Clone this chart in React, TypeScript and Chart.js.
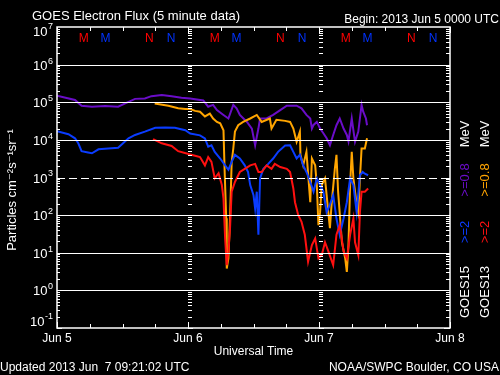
import React, { useEffect, useRef } from "react";
import { Chart, registerables } from "chart.js";

Chart.register(...registerables);

// Hours since 2013 Jun 5 00:00 UT, and electron flux (particles cm^-2 s^-1 sr^-1)
const g15LowHours = [0, 3.3, 4.5, 6.4, 8.8, 11.2, 12.5, 14.3, 16.1, 17.3, 19.2, 21.0, 22.8, 24.4, 26.8, 27.7, 28.6, 29.3, 30.5, 31.4, 32.3, 32.9, 33.5, 34.8, 35.7, 36.3, 36.9, 37.2, 38.4, 39.6, 40.9, 42.1, 43.9, 44.8, 45.7, 46.4, 46.7, 47.0, 47.6, 48.2, 48.8, 49.4, 50.0, 50.6, 51.2, 51.8, 52.5, 53.1, 53.4, 54.0, 54.6, 55.2, 55.8, 56.1, 56.6, 56.8];
const g15LowFlux = [1.48e5, 1.15e5, 8.1e4, 7.6e4, 7.9e4, 7.6e4, 9.3e4, 1.23e5, 1.26e5, 1.45e5, 1.55e5, 1.45e5, 1.32e5, 1.26e5, 1.12e5, 7.6e4, 8.5e4, 6.2e4, 4.6e4, 3.7e4, 8.5e4, 6.9e4, 4.6e4, 3.0e4, 2.0e4, 7.2e3, 2.0e4, 3.7e4, 3.7e4, 4.6e4, 6.2e4, 8.1e4, 8.1e4, 6.9e4, 4.6e4, 3.7e4, 2.0e4, 2.5e4, 3.0e4, 2.0e4, 1.5e4, 1.1e4, 7.2e3, 1.35e4, 2.45e4, 3.7e4, 2.0e4, 1.35e4, 9.1e3, 3.7e4, 8.9e3, 1.66e4, 8.5e4, 5.6e4, 3.7e4, 2.45e4];

const g15HighHours = [0, 2.1, 3.3, 3.9, 4.5, 5.7, 6.4, 7.6, 9.4, 11.2, 11.9, 13.1, 14.3, 16.1, 18.0, 19.8, 21.6, 23.5, 24.4, 26.2, 27.1, 27.7, 28.3, 28.9, 29.9, 30.8, 31.4, 32.0, 32.6, 33.5, 34.4, 35.0, 35.4, 36.0, 36.3, 36.6, 36.9, 37.2, 37.8, 38.7, 39.6, 40.5, 41.8, 42.7, 43.3, 43.9, 44.5, 45.1, 45.7, 46.4, 47.0, 47.6, 48.2, 48.8, 49.4, 50.0, 50.6, 51.2, 51.8, 52.5, 53.1, 53.7, 54.3, 54.9, 55.5, 56.0, 56.4, 57.0];
const g15HighFlux = [1.7e4, 1.41e4, 1.1e4, 8.1e3, 5.0e3, 4.6e3, 4.4e3, 5.6e3, 5.9e3, 6.2e3, 7.6e3, 1.1e4, 1.35e4, 1.66e4, 2.1e4, 2.14e4, 2.1e4, 1.8e4, 1.48e4, 1.32e4, 1.1e4, 6.6e3, 7.2e3, 4.8e3, 3.2e3, 2.1e3, 1.6e3, 2.6e3, 4.0e3, 3.2e3, 2.1e3, 1.4e3, 630, 340, 150, 420, 30, 950, 1.7e3, 2.3e3, 3.2e3, 4.8e3, 7.1e3, 7.2e3, 4.8e3, 3.2e3, 4.0e3, 2.1e3, 1.4e3, 760, 420, 950, 630, 420, 120, 190, 340, 81, 30, 81, 220, 950, 630, 120, 1.15e3, 1.4e3, 1.26e3, 1.15e3];

const g13LowHours = [17.9, 20.4, 22.2, 23.5, 24.4, 25.3, 26.2, 27.1, 28.0, 28.6, 29.3, 29.9, 30.5, 30.7, 31.0, 31.1, 31.4, 31.7, 32.0, 32.3, 32.6, 33.2, 34.1, 35.4, 36.6, 37.5, 39.0, 39.3, 40.2, 41.8, 42.7, 43.3, 43.9, 44.5, 44.6, 45.1, 45.7, 46.4, 46.7, 47.3, 47.6, 47.9, 48.2, 48.5, 49.1, 49.7, 50.0, 50.3, 50.9, 51.2, 51.5, 52.2, 52.8, 53.1, 53.4, 53.7, 54.0, 54.3, 54.9, 55.2, 55.5, 55.8, 56.4, 56.8];
const g13LowFlux = [9.3e4, 8.1e4, 6.9e4, 6.6e4, 6.6e4, 5.9e4, 5.6e4, 4.2e4, 5.0e4, 3.7e4, 3.0e4, 2.75e4, 1.8e4, 1.7e3, 83, 3.8, 7.1, 83, 2.6e3, 5.9e3, 1.66e4, 2.45e4, 3.0e4, 3.7e4, 4.6e4, 3.0e4, 3.7e4, 2.0e4, 3.4e4, 3.2e4, 3.0e4, 2.0e4, 8.9e3, 1.66e4, 4.0e3, 2.1e3, 4.8e3, 220, 3.2e3, 2.1e3, 630, 54, 120, 630, 950, 120, 45, 190, 1.7e3, 4.0e3, 420, 19, 7.1, 3.1, 16, 630, 4.8e3, 950, 190, 120, 950, 5.9e3, 5.9e3, 1.1e4];

const g13HighHours = [17.6, 19.2, 21.0, 22.2, 24.1, 25.3, 26.2, 27.1, 27.7, 28.3, 28.9, 29.6, 30.2, 30.5, 30.8, 31.1, 31.4, 31.7, 32.0, 32.6, 33.5, 34.4, 35.4, 36.3, 36.9, 37.5, 38.4, 39.3, 39.9, 40.9, 42.1, 42.7, 43.3, 43.6, 44.2, 44.8, 45.4, 46.0, 46.7, 47.3, 47.9, 48.5, 49.1, 49.7, 50.6, 51.2, 51.8, 52.5, 53.1, 53.7, 54.3, 54.6, 55.2, 55.5, 55.8, 56.4, 57.0];
const g13HighFlux = [1.05e4, 8.1e3, 6.9e3, 5.0e3, 4.2e3, 3.8e3, 3.5e3, 2.1e3, 3.5e3, 2.6e3, 950, 1.3e3, 630, 280, 24, 4.7, 11, 45, 420, 760, 1.4e3, 1.7e3, 2.1e3, 2.3e3, 1.4e3, 1.4e3, 2.1e3, 1.7e3, 2.3e3, 1.9e3, 1.7e3, 1.4e3, 510, 220, 100, 66, 30, 5.8, 16, 24, 7.1, 8.7, 19, 11, 4.7, 30, 54, 11, 7.1, 30, 81, 19, 8.7, 120, 420, 420, 510];

const dayLabels = ["Jun 5", "Jun 6", "Jun 7", "Jun 8"];
const dayHours = [0, 24, 48, 72];
const decadeExponents = [7, 6, 5, 4, 3, 2, 1, 0, -1];

// Local midnight (M) and noon (N) markers, hours UT
const g13MidnightHours = [4.9, 28.9, 52.9];
const g13NoonHours = [16.9, 40.9, 64.9];
const g15MidnightHours = [8.9, 32.9, 56.9];
const g15NoonHours = [20.9, 44.9, 68.9];

const COLORS = {
  g15Low: "#6a0dc8",
  g15High: "#0a3cff",
  g13Low: "#ffa500",
  g13High: "#ff1010",
};

const FONT = "'Liberation Sans', 'DejaVu Sans', sans-serif";

function pts(h: number[], v: number[]) {
  return h.map((x, i) => ({ x, y: v[i] }));
}

const SUP: Record<string, string> = { "-": "⁻", "0": "⁰", "1": "¹", "2": "²", "3": "³", "4": "⁴", "5": "⁵", "6": "⁶", "7": "⁷", "8": "⁸", "9": "⁹" };

const frame = {
  id: "goesFrame",
  beforeDraw(chart: any) {
    const c = chart.ctx;
    c.save();
    c.fillStyle = "#000";
    c.fillRect(0, 0, chart.width, chart.height);
    c.restore();
  },
  afterDatasetsDraw(chart: any) {
    const c = chart.ctx as CanvasRenderingContext2D;
    const xs = chart.scales.x;
    const ys = chart.scales.y;
    const a = chart.chartArea;
    c.save();
    c.strokeStyle = "#fff";
    c.lineWidth = 1;

    // horizontal grid lines
    for (const e of decadeExponents) {
      if (e === 7 || e === -1) continue;
      const y = Math.round(ys.getPixelForValue(Math.pow(10, e))) + 0.5;
      c.setLineDash(e === 3 ? [8, 4] : []);
      c.beginPath();
      c.moveTo(a.left, y);
      c.lineTo(a.right, y);
      c.stroke();
    }
    c.setLineDash([]);

    // frame
    c.lineWidth = 1.5;
    c.strokeRect(a.left, a.top, a.right - a.left, a.bottom - a.top);
    c.lineWidth = 1;

    // minor y ticks on left, right and at day boundaries
    for (let e = -1; e < 7; e++) {
      for (let k = 1; k <= 9; k++) {
        const y = Math.round(ys.getPixelForValue(k * Math.pow(10, e))) + 0.5;
        const len = k === 1 ? 5 : 3;
        c.beginPath();
        c.moveTo(a.left, y);
        c.lineTo(a.left + len, y);
        c.moveTo(a.right, y);
        c.lineTo(a.right - len - 1, y);
        for (const d of [24, 48]) {
          const x = Math.round(xs.getPixelForValue(d));
          c.moveTo(x, y);
          c.lineTo(x + (k === 1 ? 5 : 4), y);
        }
        c.stroke();
      }
    }

    // x ticks every 6 hours
    for (let h = 0; h <= 72; h += 6) {
      const x = Math.round(xs.getPixelForValue(h)) + 0.5;
      const len = h % 24 === 0 ? 6 : 4;
      c.beginPath();
      c.moveTo(x, a.bottom);
      c.lineTo(x, a.bottom - len);
      c.moveTo(x, a.top);
      c.lineTo(x, a.top + len);
      c.stroke();
    }

    // y labels
    c.fillStyle = "#fff";
    for (const e of decadeExponents) {
      const yl = ys.getPixelForValue(Math.pow(10, e));
      const yc = Math.min(Math.max(yl + 1.5, 32), 322);
      c.font = `12px ${FONT}`;
      c.textAlign = "right";
      c.textBaseline = "middle";
      const sup = String(e);
      c.font = `9px ${FONT}`;
      const sw = c.measureText(sup).width;
      c.fillText(sup, 53, yc - 5);
      c.font = `13px ${FONT}`;
      c.fillText("10", 53 - sw - 0.5, yc);
    }

    // x labels
    c.font = `12px ${FONT}`;
    c.textAlign = "center";
    c.textBaseline = "middle";
    dayHours.forEach((h, i) => {
      c.fillText(dayLabels[i], xs.getPixelForValue(h), 339);
    });
    c.fillText("Universal Time", (a.left + a.right) / 2, 352);

    // M / N markers
    c.font = `12px ${FONT}`;
    const mark = (hours: number[], txt: string, col: string) => {
      c.fillStyle = col;
      for (const h of hours) c.fillText(txt, xs.getPixelForValue(h), 39);
    };
    mark(g13MidnightHours, "M", "#ff0000");
    mark(g15MidnightHours, "M", "#0033ff");
    mark(g13NoonHours, "N", "#ff0000");
    mark(g15NoonHours, "N", "#0033ff");

    // titles
    c.fillStyle = "#fff";
    c.textAlign = "left";
    c.textBaseline = "alphabetic";
    c.font = `13px ${FONT}`;
    c.fillText("GOES Electron Flux (5 minute data)", 32, 20);
    c.textAlign = "right";
    c.font = `12px ${FONT}`;
    c.fillText("Begin: 2013 Jun 5 0000 UTC", 499, 23);
    c.textAlign = "left";
    c.fillText("Updated 2013 Jun  7 09:21:02 UTC", 0, 371);
    c.textAlign = "right";
    c.fillText("NOAA/SWPC Boulder, CO USA", 499, 371);

    // y axis title
    c.save();
    c.translate(12, 190);
    c.rotate(-Math.PI / 2);
    c.textAlign = "center";
    c.textBaseline = "middle";
    c.font = `13px ${FONT}`;
    c.fillText("Particles cm" + SUP["-"] + SUP["2"] + "s" + SUP["-"] + SUP["1"] + "sr" + SUP["-"] + SUP["1"], 0, 0);
    c.restore();

    // legend (rotated columns)
    const col = (x: number, parts: [string, string, number][]) => {
      for (const [txt, color, yc] of parts) {
        c.save();
        c.translate(x, yc);
        c.rotate(-Math.PI / 2);
        c.textAlign = "center";
        c.textBaseline = "middle";
        c.font = `13px ${FONT}`;
        c.fillStyle = color;
        c.fillText(txt, 0, 0);
        c.restore();
      }
    };
    col(465, [["GOES15", "#fff", 292], [">=2", COLORS.g15High, 232], [">=0.8", COLORS.g15Low, 180], ["MeV", "#fff", 134]]);
    col(485, [["GOES13", "#fff", 292], [">=2", COLORS.g13High, 232], [">=0.8", COLORS.g13Low, 180], ["MeV", "#fff", 134]]);

    c.restore();
  },
};

export default function App() {
  const ref = useRef<HTMLCanvasElement>(null);
  useEffect(() => {
    document.body.style.margin = "0";
    document.body.style.background = "#000";
    const canvas = ref.current!;
    const mk = (label: string, h: number[], v: number[], color: string) => ({
      label,
      data: pts(h, v),
      borderColor: color,
      backgroundColor: color,
      borderWidth: 2,
      pointRadius: 0,
      tension: 0,
      fill: false,
    });
    const chart = new Chart(canvas, {
      type: "line",
      data: {
        datasets: [
          mk("GOES13 >=2 MeV", g13HighHours, g13HighFlux, COLORS.g13High),
          mk("GOES15 >=2 MeV", g15HighHours, g15HighFlux, COLORS.g15High),
          mk("GOES13 >=0.8 MeV", g13LowHours, g13LowFlux, COLORS.g13Low),
          mk("GOES15 >=0.8 MeV", g15LowHours, g15LowFlux, COLORS.g15Low),
        ],
      },
      options: {
        animation: false,
        responsive: false,
        layout: { padding: { left: 57, right: 50, top: 27, bottom: 47 } },
        plugins: { legend: { display: false }, tooltip: { enabled: false } },
        scales: {
          x: { type: "linear", min: 0, max: 72, display: false },
          y: { type: "logarithmic", min: 0.1, max: 1e7, display: false },
        },
      },
      plugins: [frame],
    });
    return () => chart.destroy();
  }, []);
  return <canvas ref={ref} width={500} height={375} style={{ display: "block" }} />;
}
